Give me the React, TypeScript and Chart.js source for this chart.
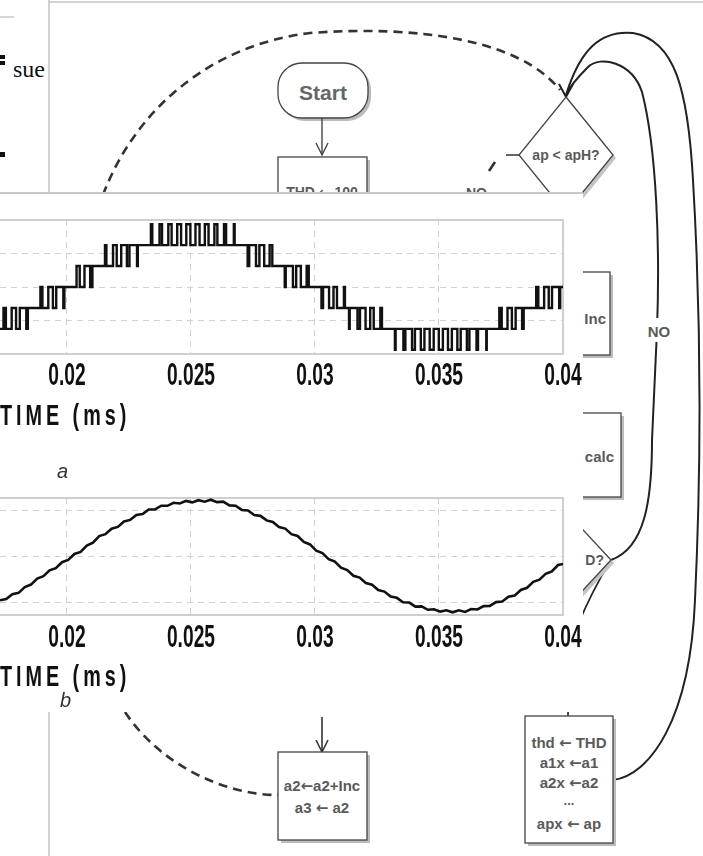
import React, { useEffect, useRef } from 'react';
import { Chart, registerables } from 'chart.js';

Chart.register(...registerables);

// ---------- data ----------
const xMin = 0.0173;
const xMax = 0.04;
const xTickValues = [0.02, 0.025, 0.03, 0.035, 0.04];
const xTickLabels = ['0.02', '0.025', '0.03', '0.035', '0.04'];
const axisTitle = 'TIME (ms)';

const yRangeA = [-3.2, 3.2];
const yTicksA = [-1.6, 0, 1.6];
const yRangeB = [-2.55, 2.55];
const yTicksB = [-2, 0, 2];

// (a) multilevel output: switching instants and the level reached at each instant
const switchTimesA = [
  0.0173, 0.0174407, 0.0175373, 0.0177706, 0.0179477, 0.0180986, 0.0183602, 0.0184226,
  0.0189296, 0.0190101, 0.0192475, 0.0194326, 0.0195674, 0.0198531, 0.0198954,
  0.0203863, 0.0205151, 0.0207062, 0.0209356, 0.0210261,
  0.0215332, 0.0215895, 0.0218571, 0.022006, 0.0221871, 0.0224165, 0.0225191, 0.0228249, 0.0228571,
  0.0233843, 0.0234406, 0.0237324, 0.023833, 0.0240865, 0.0242193, 0.0244446, 0.0246016,
  0.0248108, 0.0249758, 0.025181, 0.025346, 0.0255593, 0.0257082, 0.0259436, 0.0260643,
  0.026332, 0.0264164, 0.0267283, 0.0267605,
  0.0272856, 0.027348, 0.0276216, 0.0277585, 0.0279516, 0.028171, 0.0282796,
  0.0287806, 0.0288208, 0.0291106, 0.0292413, 0.0294305, 0.0296639, 0.0297484,
  0.0302615, 0.0303258, 0.0305673, 0.0307464, 0.0308872, 0.0311669, 0.0312071,
  0.0313721, 0.0314003, 0.0317142, 0.0318148, 0.0320401, 0.0322272, 0.0323681, 0.0326357, 0.0327001,
  0.0332232, 0.0332514, 0.0335652, 0.0336437, 0.0339133, 0.03403, 0.0342674, 0.0344123,
  0.0346256, 0.0347866, 0.0349918, 0.0351568, 0.035362, 0.0355189, 0.0357403, 0.0358751,
  0.0361246, 0.0362272, 0.0365129, 0.0365733, 0.0369073, 0.0369254,
  0.0374324, 0.037529, 0.0377624, 0.0379394, 0.0380903, 0.0383519, 0.0384143,
  0.0389193, 0.0390038, 0.0392392, 0.0394243, 0.0395571, 0.0398469, 0.0398871, 0.04,
];
const switchLevelsA = [
  -2, -1, -2, -1, -2, -1, -2, -1,
  0, -1, 0, -1, 0, -1, 0,
  1, 0, 1, 0, 1,
  2, 1, 2, 1, 2, 1, 2, 1, 2,
  3, 2, 3, 2, 3, 2, 3, 2,
  3, 2, 3, 2, 3, 2, 3, 2,
  3, 2, 3, 2,
  1, 2, 1, 2, 1, 2, 1,
  0, 1, 0, 1, 0, 1, 0,
  -1, 0, -1, 0, -1, 0, -1,
  -2, -1, -2, -1, -2, -1, -2, -1, -2,
  -3, -2, -3, -2, -3, -2, -3, -2,
  -3, -2, -3, -2, -3, -2, -3, -2,
  -3, -2, -3, -2, -3, -2,
  -1, -2, -1, -2, -1, -2, -1,
  0, -1, 0, -1, 0, -1, 0, 0,
];

// (b) filtered output
const timeB = [
  0.0173, 0.01755, 0.0178, 0.01805, 0.0183, 0.01855, 0.0188, 0.01905, 0.0193, 0.01955,
  0.0198, 0.02005, 0.0203, 0.02055, 0.0208, 0.02105, 0.0213, 0.02155, 0.0218, 0.02205,
  0.0223, 0.02255, 0.0228, 0.02305, 0.0233, 0.02355, 0.0238, 0.02405, 0.0243, 0.02455,
  0.0248, 0.02505, 0.0253, 0.02555, 0.0258, 0.02605, 0.0263, 0.02655, 0.0268, 0.02705,
  0.0273, 0.02755, 0.0278, 0.02805, 0.0283, 0.02855, 0.0288, 0.02905, 0.0293, 0.02955,
  0.0298, 0.03005, 0.0303, 0.03055, 0.0308, 0.03105, 0.0313, 0.03155, 0.0318, 0.03205,
  0.0323, 0.03255, 0.0328, 0.03305, 0.0333, 0.03355, 0.0338, 0.03405, 0.0343, 0.03455,
  0.0348, 0.03505, 0.0353, 0.03555, 0.0358, 0.03605, 0.0363, 0.03655, 0.0368, 0.03705,
  0.0373, 0.03755, 0.0378, 0.03805, 0.0383, 0.03855, 0.0388, 0.03905, 0.0393, 0.03955,
  0.0398, 0.04,
];
const valueB = [
  -1.91, -1.856, -1.64, -1.585, -1.33, -1.224, -0.96, -0.859, -0.603, -0.506,
  -0.25, -0.15, 0.109, 0.201, 0.475, 0.602, 0.889, 0.973, 1.212, 1.29,
  1.524, 1.596, 1.809, 1.848, 2.048, 2.054, 2.213, 2.21, 2.341, 2.312,
  2.424, 2.36, 2.456, 2.39, 2.476, 2.369, 2.39, 2.228, 2.215, 2.03,
  2.006, 1.811, 1.772, 1.573, 1.509, 1.286, 1.216, 0.974, 0.895, 0.635,
  0.526, 0.257, 0.149, -0.118, -0.224, -0.489, -0.593, -0.84, -0.919, -1.158,
  -1.231, -1.463, -1.529, -1.744, -1.802, -1.993, -2.008, -2.184, -2.176, -2.323,
  -2.299, -2.403, -2.346, -2.433, -2.345, -2.417, -2.288, -2.309, -2.164, -2.156,
  -1.987, -1.96, -1.753, -1.706, -1.46, -1.363, -1.106, -1.011, -0.756, -0.648,
  -0.371, -0.323,
];

// ---------- chart helpers ----------
const FONT = "'Liberation Sans', Arial, sans-serif";
const SQ_TICK = 0.62;
const SQ_TITLE = 0.66;

const squeezePlugin = {
  id: 'squeezeText',
  beforeDraw(chart: any) {
    const s = chart.scales.x;
    if (!s || s.__squeezed) return;
    s.__squeezed = true;
    const wrap = (name: string, sx: number, spacing: string) => {
      const orig = s[name];
      s[name] = function (...args: any[]) {
        const ctx = this.ctx;
        const baseFill = Object.getPrototypeOf(ctx).fillText;
        ctx.fillText = function (text: string, x: number, y: number, maxWidth?: number) {
          this.save();
          this.scale(sx, 1);
          if (maxWidth === undefined || maxWidth === null) baseFill.call(this, text, x / sx, y);
          else baseFill.call(this, text, x / sx, y, maxWidth / sx);
          this.restore();
        };
        const prev = ctx.letterSpacing;
        ctx.letterSpacing = spacing;
        try {
          return orig.apply(this, args);
        } finally {
          delete ctx.fillText;
          ctx.letterSpacing = prev;
        }
      };
    };
    wrap('drawLabels', SQ_TICK, '0px');
    wrap('drawTitle', SQ_TITLE, '6px');
  },
};

const framePlugin = {
  id: 'plotFrame',
  beforeDatasetsDraw(chart: any) {
    const { ctx, chartArea } = chart;
    const { left, right, top, bottom } = chartArea;
    ctx.save();
    ctx.strokeStyle = '#cfcfcf';
    ctx.lineWidth = 2;
    ctx.beginPath();
    ctx.moveTo(left, top);
    ctx.lineTo(right, top);
    ctx.lineTo(right, bottom);
    ctx.lineTo(left, bottom);
    ctx.stroke();
    ctx.restore();
  },
};

function buildConfig(kind: 'a' | 'b'): any {
  const isA = kind === 'a';
  const data = isA
    ? switchTimesA.map((t, i) => ({ x: t, y: switchLevelsA[i] }))
    : timeB.map((t, i) => ({ x: t, y: valueB[i] }));
  const yRange = isA ? yRangeA : yRangeB;
  const yTicks = isA ? yTicksA : yTicksB;
  const grid = { color: '#d2d2d2', lineWidth: 1, drawTicks: false };
  return {
    type: 'line',
    data: {
      datasets: [
        {
          data,
          stepped: isA ? 'before' : false,
          borderColor: '#111111',
          borderWidth: isA ? 2.4 : 2.6,
          pointRadius: 0,
          fill: false,
          tension: 0,
        },
      ],
    },
    options: {
      animation: false,
      responsive: false,
      parsing: false,
      events: [],
      layout: { padding: { top: isA ? 20 : 18, right: 37, bottom: 0, left: 0 } },
      plugins: { legend: { display: false }, tooltip: { enabled: false } },
      scales: {
        x: {
          type: 'linear',
          min: xMin,
          max: xMax,
          afterBuildTicks: (s: any) => {
            s.ticks = xTickValues.map((v) => ({ value: v }));
          },
          afterFit: (s: any) => {
            s.height = 86;
          },
          grid,
          border: { display: false, dash: [6, 5] },
          ticks: {
            autoSkip: false,
            maxRotation: 0,
            minRotation: 0,
            padding: isA ? 4 : 5,
            color: '#111',
            font: { family: FONT, size: 31, weight: 'bold' },
            callback: (_v: any, i: number) => xTickLabels[i],
          },
          title: {
            display: true,
            text: axisTitle,
            align: 'start',
            color: '#111',
            font: { family: FONT, size: 30, weight: 'bold' },
            padding: { top: 0, bottom: 5 },
          },
        },
        y: {
          type: 'linear',
          min: yRange[0],
          max: yRange[1],
          afterBuildTicks: (s: any) => {
            s.ticks = yTicks.map((v) => ({ value: v }));
          },
          afterFit: (s: any) => {
            s.width = 0;
          },
          grid,
          border: { display: false, dash: [6, 5] },
          ticks: { display: false },
        },
      },
    },
    plugins: [squeezePlugin, framePlugin],
  };
}

function WaveChart({ kind, top, height }: { kind: 'a' | 'b'; top: number; height: number }) {
  const ref = useRef<HTMLCanvasElement | null>(null);
  useEffect(() => {
    if (!ref.current) return;
    const chart = new Chart(ref.current, buildConfig(kind));
    return () => chart.destroy();
  }, [kind]);
  return (
    <canvas
      ref={ref}
      width={600}
      height={height}
      style={{ position: 'absolute', left: 0, top, width: 600, height }}
    />
  );
}

// ---------- flowchart backdrop ----------
const TXT = { fontFamily: FONT, fontWeight: 700, fill: '#5a5a5a' } as const;
const ARROW_FONT = "'DejaVu Sans', sans-serif";

function Arrow() {
  return <tspan fontFamily={ARROW_FONT} fontWeight={700}>←</tspan>;
}

function Box({ x, y, w, h, rx = 0 }: { x: number; y: number; w: number; h: number; rx?: number }) {
  return (
    <g>
      <rect x={x + 3} y={y + 3} width={w} height={h} rx={rx} fill="#bcbcbc" />
      <rect x={x} y={y} width={w} height={h} rx={rx} fill="#fff" stroke="#444" strokeWidth={1.3} />
    </g>
  );
}

function Diamond({ cx, cy, hw, hh }: { cx: number; cy: number; hw: number; hh: number }) {
  const pts = (dx: number, dy: number) =>
    `${cx + dx},${cy - hh + dy} ${cx + hw + dx},${cy + dy} ${cx + dx},${cy + hh + dy} ${cx - hw + dx},${cy + dy}`;
  return (
    <g>
      <polygon points={pts(3, 3)} fill="#c4c4c4" />
      <polygon points={pts(0, 0)} fill="#fff" stroke="#444" strokeWidth={1.3} />
    </g>
  );
}

function Flowchart() {
  return (
    <svg width={703} height={856} style={{ position: 'absolute', left: 0, top: 0 }}>
      <line x1={49} y1={0} x2={49} y2={856} stroke="#c4c4c4" strokeWidth={1.5} />
      <line x1={49} y1={2} x2={703} y2={2} stroke="#c4c4c4" strokeWidth={1.5} />
      <line x1={0} y1={17} x2={14} y2={17} stroke="#c8c8c8" strokeWidth={1.5} />
      <rect x={0} y={55} width={5} height={4} fill="#111" />
      <rect x={0} y={61} width={5} height={4} fill="#111" />
      <rect x={0} y={152} width={5} height={5} fill="#111" />
      <text x={13} y={77} fontFamily="'Liberation Serif', 'DejaVu Serif', serif" fontSize={24} fill="#111">
        sue
      </text>

      {/* dashed loop at the top */}
      <path d="M103,195 C135,110 210,45 310,33 C420,25 520,40 560,90" fill="none" stroke="#333" strokeWidth={2.6} strokeDasharray="9 6" />
      {/* solid return curves */}
      <path d="M613,780 C650,775 690,720 695,600 C702,450 700,300 693,180 C688,90 675,40 633,33 C600,30 580,50 566,95" fill="none" stroke="#222" strokeWidth={2} />
      <path d="M611,560 C645,548 652,500 652,440 L657,330 C660,250 657,150 642,92 C632,62 600,55 588,67 C578,77 570,86 566,95" fill="none" stroke="#222" strokeWidth={2} />
      <path d="M559,84 L566,97 L573,84" fill="none" stroke="#222" strokeWidth={2} />
      <path d="M611,560 C600,578 588,600 578,625 C572,650 568,690 568,716" fill="none" stroke="#222" strokeWidth={1.6} />

      {/* Start */}
      <Box x={278} y={63} w={90} h={55} rx={24} />
      <text x={323} y={100} textAnchor="middle" fontSize={21} {...TXT} fill="#666">Start</text>
      <line x1={322} y1={118} x2={322} y2={155} stroke="#444" strokeWidth={1.4} />
      <path d="M316,143 L322,155 L328,143" fill="none" stroke="#444" strokeWidth={1.4} />
      <Box x={278} y={157} w={89} h={60} />
      <text x={322} y={197} textAnchor="middle" fontSize={14} {...TXT}>THD <Arrow /> 100</text>

      {/* decision ap < apH? */}
      <Diamond cx={566} cy={155} hw={47} hh={58} />
      <text x={566} y={160} textAnchor="middle" fontSize={14} {...TXT}>ap &lt; apH?</text>
      <line x1={506} y1={155} x2={519} y2={155} stroke="#333" strokeWidth={1.5} />
      <line x1={489} y1={171} x2={495} y2={162} stroke="#333" strokeWidth={2.6} />
      <text x={466} y={198} fontSize={14} {...TXT}>NO</text>

      {/* right column blocks */}
      <Box x={530} y={272} w={80} h={83} />
      <text x={606} y={324} textAnchor="end" fontSize={15} {...TXT}>Inc</text>
      <rect x={645} y={318} width={27} height={24} fill="#fff" />
      <text x={659} y={337} textAnchor="middle" fontSize={15} {...TXT}>NO</text>
      <Box x={530} y={413} w={91} h={84} />
      <text x={614} y={462} textAnchor="end" fontSize={15} {...TXT}>calc</text>
      <Diamond cx={560} cy={560} hw={51} hh={55} />
      <text x={604} y={565} textAnchor="end" fontSize={14} {...TXT}>D?</text>

      {/* bottom blocks */}
      <path d="M125,712 C160,765 225,795 278,795" fill="none" stroke="#333" strokeWidth={2.6} strokeDasharray="9 6" />
      <line x1={322} y1={717} x2={322} y2={752} stroke="#333" strokeWidth={1.6} />
      <path d="M316,740 L322,752 L328,740" fill="none" stroke="#333" strokeWidth={1.6} />
      <Box x={278} y={752} w={89} h={88} />
      <text x={322} y={791} textAnchor="middle" fontSize={15} {...TXT}>a2<Arrow />a2+Inc</text>
      <text x={322} y={813} textAnchor="middle" fontSize={15} {...TXT}>a3 <Arrow /> a2</text>
      <Box x={525} y={716} w={88} h={127} />
      <text x={569} y={748} textAnchor="middle" fontSize={15} {...TXT}>thd <Arrow /> THD</text>
      <text x={569} y={768} textAnchor="middle" fontSize={15} {...TXT}>a1x <Arrow />a1</text>
      <text x={569} y={788} textAnchor="middle" fontSize={15} {...TXT}>a2x <Arrow />a2</text>
      <text x={569} y={805} textAnchor="middle" fontSize={13} {...TXT}>...</text>
      <text x={569} y={829} textAnchor="middle" fontSize={15} {...TXT}>apx <Arrow /> ap</text>
    </svg>
  );
}

export default function App() {
  return (
    <div style={{ position: 'absolute', left: 0, top: 0, width: 703, height: 856, background: '#fff', overflow: 'hidden' }}>
      <Flowchart />
      <div style={{ position: 'absolute', left: 0, top: 193, width: 583, height: 519, background: '#fff', overflow: 'hidden' }}>
        <WaveChart kind="a" top={7} height={240} />
        <WaveChart kind="b" top={287} height={221} />
        <div style={{ position: 'absolute', left: 57, top: 268, fontFamily: FONT, fontStyle: 'italic', fontSize: 20, lineHeight: '20px', color: '#333' }}>a</div>
        <div style={{ position: 'absolute', left: 60, top: 497, fontFamily: FONT, fontStyle: 'italic', fontSize: 20, lineHeight: '20px', color: '#333' }}>b</div>
      </div>
      <div style={{ position: 'absolute', left: 0, top: 192, width: 583, height: 2, background: '#c8c8c8' }} />
    </div>
  );
}
